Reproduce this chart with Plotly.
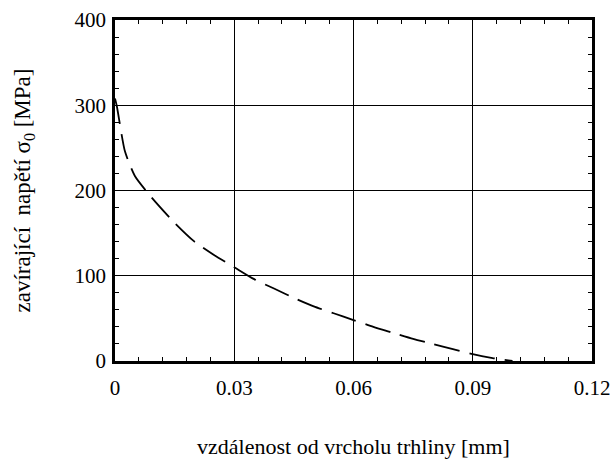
import plotly.graph_objects as go

# distance from crack tip [mm]
x_mm = [0, 0.0005, 0.0025, 0.005, 0.009, 0.015, 0.02, 0.025, 0.03, 0.035, 0.04,
        0.045, 0.05, 0.055, 0.06, 0.065, 0.07, 0.075, 0.08, 0.085, 0.09, 0.095, 0.1]
# closing stress sigma_0 [MPa]
sigma0 = [308, 298, 246, 217, 193, 162, 140, 124, 110, 96, 85,
          74, 64, 56, 48, 40, 33, 26, 20, 14, 8, 3.5, 0]

x_ticks = [0, 0.03, 0.06, 0.09, 0.12]
x_ticklabels = ["0", "0.03", "0.06", "0.09", "0.12"]
y_ticks = [0, 100, 200, 300, 400]

FONT = "Liberation Serif"

fig = go.Figure()
fig.add_trace(go.Scatter(
    x=x_mm, y=sigma0, mode="lines",
    line=dict(color="black", width=1.8, dash="26px,10px", shape="spline", smoothing=0.6),
    showlegend=False, hoverinfo="skip"))

axis_common = dict(
    showline=True, linecolor="black", linewidth=2.5, mirror="allticks",
    showgrid=True, gridcolor="black", gridwidth=1,
    zeroline=False, ticks="inside", ticklen=4, tickcolor="black",
    tickfont=dict(family=FONT, size=21, color="black"),
    automargin=False,
)

fig.update_xaxes(
    range=[0, 0.12], tickvals=x_ticks, ticktext=x_ticklabels,
    minor=dict(dtick=0.006, ticks="inside", ticklen=4, tickcolor="black", showgrid=False),
    title=dict(text="vzdálenost od vrcholu trhliny [mm]",
               font=dict(family=FONT, size=22, color="black"), standoff=46),
    ticklabelstandoff=6,
    **axis_common)
fig.update_yaxes(
    range=[0, 400], tickvals=y_ticks,
    minor=dict(dtick=20, ticks="inside", ticklen=4, tickcolor="black", showgrid=False),
    title=dict(text="zavírající\u00a0 napětí σ<sub>0</sub> [MPa]",
               font=dict(family=FONT, size=23, color="black"), standoff=38),
    ticklabelstandoff=2,
    **axis_common)

fig.update_layout(
    width=614, height=459,
    margin=dict(l=115, r=22, t=20, b=98),
    paper_bgcolor="white", plot_bgcolor="white",
    font=dict(family=FONT, color="black"),
)

fig.write_html("out.html")
